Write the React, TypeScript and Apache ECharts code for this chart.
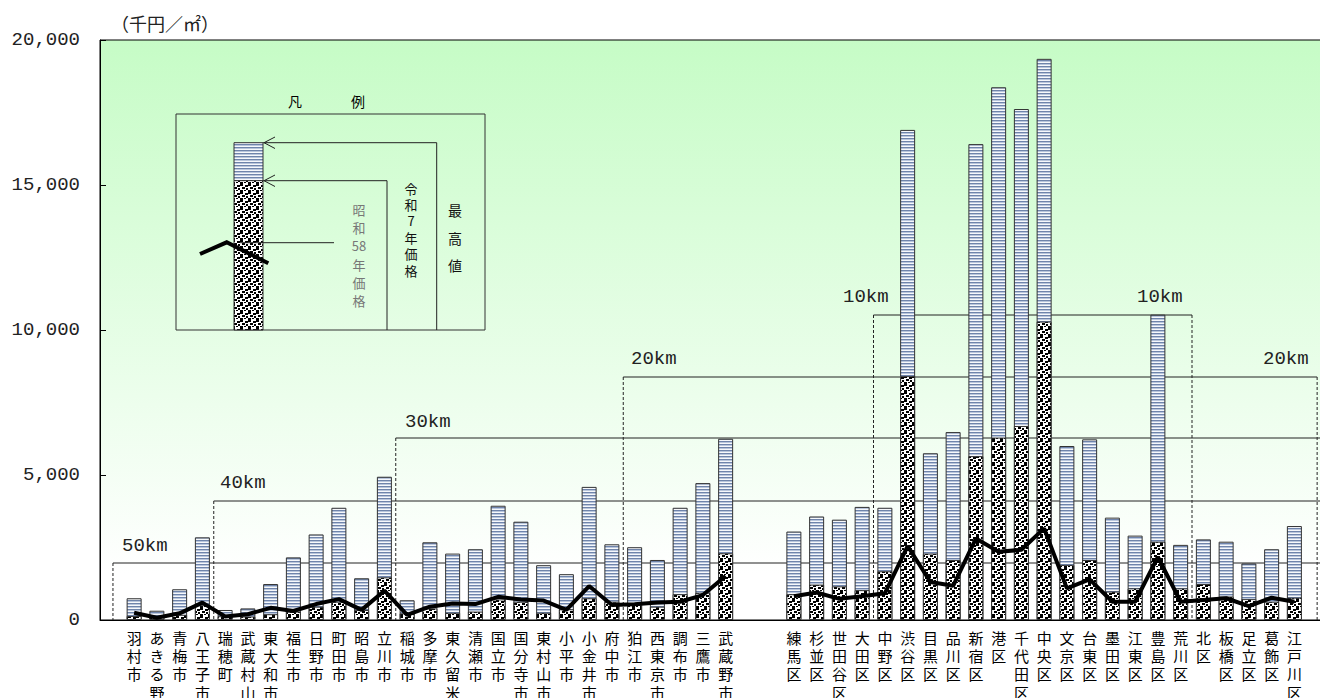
import React, { useEffect, useRef } from 'react';
import * as echarts from 'echarts';

// ---- data ----
const cityNames = ['羽村市','あきる野市','青梅市','八王子市','瑞穂町','武蔵村山市','東大和市','福生市','日野市','町田市','昭島市','立川市','稲城市','多摩市','東久留米市','清瀬市','国立市','国分寺市','東村山市','小平市','小金井市','府中市','狛江市','西東京市','調布市','三鷹市','武蔵野市'];
const cityMax = [750, 320, 1060, 2850, 345, 400, 1240, 2160, 2950, 3870, 1440, 4940, 680, 2680, 2290, 2440, 3940, 3390, 1890, 1580, 4590, 2610, 2510, 2070, 3870, 4720, 6250];
const cityR7 = [140, 100, 180, 510, 130, 120, 200, 290, 460, 630, 350, 1470, 230, 400, 250, 290, 710, 630, 250, 370, 750, 630, 520, 460, 890, 940, 2300];
const cityS58 = [250, 80, 230, 600, 120, 200, 420, 310, 550, 720, 350, 1010, 180, 460, 570, 550, 800, 710, 670, 350, 1170, 520, 540, 600, 630, 860, 1520];

const wardNames = ['練馬区','杉並区','世田谷区','大田区','中野区','渋谷区','目黒区','品川区','新宿区','港区','千代田区','中央区','文京区','台東区','墨田区','江東区','豊島区','荒川区','北区','板橋区','足立区','葛飾区','江戸川区'];
const wardMax = [3050, 3570, 3460, 3900, 3870, 16900, 5750, 6480, 16410, 18370, 17620, 19350, 6000, 6230, 3530, 2910, 10530, 2590, 2780, 2700, 1950, 2440, 3240];
const wardR7 = [890, 1220, 1160, 1030, 1680, 8410, 2290, 2070, 5650, 6290, 6690, 10290, 1900, 2070, 980, 1090, 2700, 1090, 1240, 810, 720, 630, 770];
const wardS58 = [820, 950, 730, 820, 920, 2550, 1310, 1180, 2810, 2350, 2420, 3160, 1090, 1400, 630, 630, 2180, 630, 690, 750, 480, 770, 630];

const yTicks = [0, 5000, 10000, 15000, 20000];

// ---- layout constants ----
const W = 1320, H = 698;
const GL = 100, GT = 40, GB = 620;
const SLOTS = 54;
const SLOT = 22.75;
const GR = W - (GL + SLOTS * SLOT); // negative: plot runs past the right edge
const sx = (k: number) => GL + k * SLOT;

function stripeCanvas() {
  const c = document.createElement('canvas');
  c.width = 4; c.height = 3;
  const g = c.getContext('2d')!;
  const rows = ['#6f84ab', '#b9c6dc', '#f6f8fb'];
  rows.forEach((col, i) => { g.fillStyle = col; g.fillRect(0, i, 4, 1); });
  return c;
}
function dotCanvas() {
  const c = document.createElement('canvas');
  c.width = 8; c.height = 8;
  const g = c.getContext('2d')!;
  g.fillStyle = '#ffffff'; g.fillRect(0, 0, 8, 8);
  g.fillStyle = '#000000';
  [[0, 0, 3, 2], [5, 1, 3, 2], [2, 3, 3, 2], [6, 4, 2, 2], [0, 6, 3, 2], [4, 6, 2, 1]].forEach(([x, y, w, h]) => g.fillRect(x, y, w, h));
  return c;
}

export default function App() {
  const ref = useRef<HTMLDivElement>(null);
  useEffect(() => {
    const chart = echarts.init(ref.current!, null, { renderer: 'svg' });
    const sc = stripeCanvas();
    const dc = dotCanvas();
    const stripe: any = { image: sc, repeat: 'repeat', imageWidth: 4, imageHeight: 3 };
    const dots: any = { image: dc, repeat: 'repeat', imageWidth: 8, imageHeight: 8 };

    const cats = ['', ...cityNames, '', '', ...wardNames, ''];
    const maxData = [null, ...cityMax, null, null, ...wardMax, null];
    const r7Data = [null, ...cityR7, null, null, ...wardR7, null];
    const s58Data = [null, ...cityS58, null, null, ...wardS58, null];

    const kmFont = { fontFamily: 'Liberation Mono', fontSize: 19, fill: '#222' };
    const lineStyle = { stroke: '#222', lineWidth: 1 };
    const dashStyle = { stroke: '#222', lineWidth: 1, lineDash: [3, 2] };

    const zones = [
      { y: 563, x0: sx(0.57), x1: W + 20, lx: 122, ly: 546, label: '50km', dashR: false, rx: 0 },
      { y: 501, x0: sx(5), x1: W + 20, lx: 220, ly: 483, label: '40km', dashR: false, rx: 0 },
      { y: 438, x0: sx(13), x1: W + 20, lx: 405, ly: 422, label: '30km', dashR: false, rx: 0 },
      { y: 377, x0: sx(23), x1: sx(53.5), lx: 631, ly: 359, label: '20km', dashR: true, rx: 1263 },
      { y: 315, x0: sx(34), x1: sx(48), lx: 843, ly: 297, label: '10km', dashR: true, rx: 1137 },
    ];
    const zoneEls: any[] = [];
    zones.forEach((z) => {
      zoneEls.push({ type: 'line', z: 1, shape: { x1: z.x0, y1: z.y, x2: z.x1, y2: z.y }, style: lineStyle });
      zoneEls.push({ type: 'line', z: 1, shape: { x1: z.x0, y1: z.y, x2: z.x0, y2: GB }, style: dashStyle });
      if (z.dashR) zoneEls.push({ type: 'line', z: 1, shape: { x1: z.x1, y1: z.y, x2: z.x1, y2: GB }, style: dashStyle });
      zoneEls.push({ type: 'text', z: 1, x: z.lx, y: z.ly, style: { ...kmFont, text: z.label, textAlign: 'left', textVerticalAlign: 'middle' } });
      if (z.rx) zoneEls.push({ type: 'text', z: 1, x: z.rx, y: z.ly, style: { ...kmFont, text: z.label, textAlign: 'left', textVerticalAlign: 'middle' } });
    });

    const jp = 'Noto Sans CJK JP';
    const legendEls: any[] = [
      { type: 'text', z: 10, x: 295, y: 101, style: { text: '凡', fontFamily: jp, fontSize: 14, fill: '#000', textAlign: 'center', textVerticalAlign: 'middle' } },
      { type: 'text', z: 10, x: 358, y: 101, style: { text: '例', fontFamily: jp, fontSize: 14, fill: '#000', textAlign: 'center', textVerticalAlign: 'middle' } },
      { type: 'rect', z: 10, shape: { x: 176, y: 114, width: 309, height: 216 }, style: { fill: 'none', stroke: '#333', lineWidth: 1 } },
      { type: 'rect', z: 10, shape: { x: 234, y: 142.7, width: 29, height: 38 }, style: { fill: stripe, stroke: '#333', lineWidth: 1 } },
      { type: 'rect', z: 10, shape: { x: 234, y: 180.7, width: 29, height: 149.3 }, style: { fill: dots, stroke: '#333', lineWidth: 1 } },
      { type: 'polyline', z: 10, shape: { points: [[263, 142.7], [436.7, 142.7], [436.7, 330]] }, style: { stroke: '#222', lineWidth: 1, fill: 'none' } },
      { type: 'polyline', z: 10, shape: { points: [[275, 137], [264, 142.7], [275, 148.5]] }, style: { stroke: '#222', lineWidth: 1, fill: 'none' } },
      { type: 'polyline', z: 10, shape: { points: [[263, 180.7], [387, 180.7], [387, 330]] }, style: { stroke: '#222', lineWidth: 1, fill: 'none' } },
      { type: 'polyline', z: 10, shape: { points: [[275, 175], [264, 180.7], [275, 186.5]] }, style: { stroke: '#222', lineWidth: 1, fill: 'none' } },
      { type: 'line', z: 11, shape: { x1: 240, y1: 242.7, x2: 334, y2: 242.7 }, style: { stroke: '#222', lineWidth: 1 } },
      { type: 'polyline', z: 11, shape: { points: [[200, 254], [226.7, 242.3], [268.3, 263.3]] }, style: { stroke: '#000', lineWidth: 4, fill: 'none' } },
      { type: 'text', z: 10, x: 359, y: 255, style: { text: '昭\n和\n58\n年\n価\n格', fontFamily: jp, fontSize: 13, lineHeight: 18.2, fill: '#777', textAlign: 'center', textVerticalAlign: 'middle' } },
      { type: 'text', z: 10, x: 411, y: 229, style: { text: '令\n和\n7\n年\n価\n格', fontFamily: jp, fontSize: 13, lineHeight: 16.4, fill: '#111', textAlign: 'center', textVerticalAlign: 'middle' } },
      { type: 'text', z: 10, x: 455, y: 237.5, style: { text: '最\n高\n値', fontFamily: jp, fontSize: 14, lineHeight: 27.5, fill: '#111', textAlign: 'center', textVerticalAlign: 'middle' } },
      { type: 'text', z: 10, x: 111, y: 23, style: { text: '（千円／㎡）', fontFamily: jp, fontSize: 18, fill: '#222', textAlign: 'left', textVerticalAlign: 'middle' } },
    ];

    chart.setOption({
      animation: false,
      backgroundColor: '#ffffff',
      grid: {
        show: true, left: GL, top: GT, right: GR, bottom: H - GB,
        containLabel: false,
        outerBoundsMode: 'none',
        backgroundColor: new echarts.graphic.LinearGradient(0, 0, 0, 1, [
          { offset: 0, color: '#c6fcc6' },
          { offset: 0.92, color: '#ffffff' },
          { offset: 1, color: '#ffffff' },
        ]),
        borderColor: '#000', borderWidth: 1,
      },
      xAxis: {
        type: 'category', data: cats, boundaryGap: true,
        axisLine: { show: true, lineStyle: { color: '#000', width: 1 } },
        axisTick: { show: false },
        axisLabel: {
          interval: 0, margin: 8, fontFamily: jp, fontSize: 15, lineHeight: 18.3, color: '#000',
          formatter: (v: string) => v.split('').join('\n'),
        },
        splitLine: { show: false },
      },
      yAxis: {
        type: 'value', min: yTicks[0], max: yTicks[yTicks.length - 1], interval: yTicks[1] - yTicks[0],
        axisLine: { show: true, lineStyle: { color: '#000', width: 1 } },
        axisTick: { show: true, inside: true, length: 6, lineStyle: { color: '#000' } },
        axisLabel: {
          margin: 20, fontFamily: 'Liberation Mono', fontSize: 19, color: '#222',
          formatter: (v: number) => v.toLocaleString('en-US'),
        },
        splitLine: { show: false },
      },
      graphic: { elements: [...zoneEls, ...legendEls] },
      series: [
        {
          type: 'bar', name: '最高値', data: maxData, barWidth: 15, barGap: '-100%', z: 2,
          itemStyle: { color: stripe, borderColor: '#333', borderWidth: 1 },
        },
        {
          type: 'bar', name: '令和7年価格', data: r7Data, barWidth: 15, barGap: '-100%', z: 3,
          itemStyle: { color: dots, borderColor: '#333', borderWidth: 1 },
        },
        {
          type: 'line', name: '昭和58年価格', data: s58Data, symbol: 'none', connectNulls: false, z: 5,
          lineStyle: { color: '#000', width: 4 },
        },
      ],
    });
    return () => chart.dispose();
  }, []);
  return <div ref={ref} style={{ position: 'absolute', left: 0, top: 0, width: W, height: H }} />;
}
